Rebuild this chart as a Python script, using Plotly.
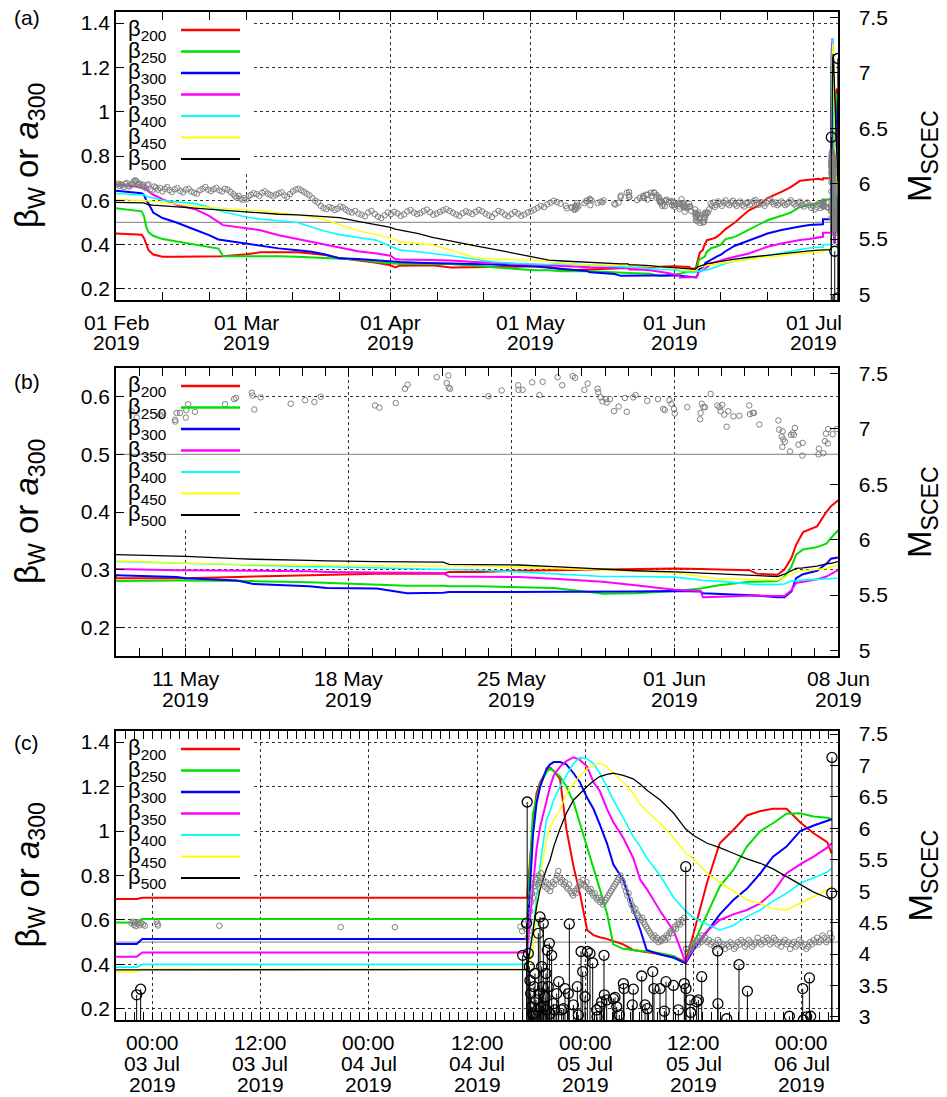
import numpy as np
import pandas as pd
import plotly.graph_objects as go

# ---------------- data ----------------
LABELS = [200, 250, 300, 350, 400, 450, 500]
COLORS = ['#ff0000', '#00e000', '#0000ff', '#ff00ff', '#00ffff', '#ffff00', '#000000']
WIDTHS = [2, 2, 2, 2, 1.6, 1.4, 1.3]

# beta_W, 01 Feb - 08 May (days after 01 Feb 2019)
FEB_T = [0, 5.5, 6, 6.5, 7, 8, 10, 13, 17, 20, 22, 23, 28, 31, 35, 39, 42, 45, 48, 52, 56, 59, 60, 61, 65, 68, 72, 77, 81, 86, 90, 93, 96]
FEB_B200 = [0.450, 0.445, 0.430, 0.400, 0.375, 0.355, 0.345, 0.345, 0.345, 0.345, 0.345, 0.347, 0.357, 0.365, 0.365, 0.365, 0.360, 0.353, 0.340, 0.330, 0.318, 0.307, 0.297, 0.305, 0.307, 0.307, 0.297, 0.297, 0.297, 0.300, 0.302, 0.300, 0.288]
FEB_B250 = [0.564, 0.550, 0.530, 0.480, 0.455, 0.440, 0.425, 0.415, 0.400, 0.390, 0.382, 0.348, 0.348, 0.350, 0.348, 0.345, 0.342, 0.338, 0.335, 0.333, 0.322, 0.315, 0.312, 0.312, 0.312, 0.312, 0.312, 0.305, 0.297, 0.290, 0.284, 0.284, 0.280]
FEB_B300 = [0.643, 0.632, 0.625, 0.600, 0.585, 0.545, 0.520, 0.500, 0.467, 0.443, 0.423, 0.420, 0.402, 0.395, 0.383, 0.375, 0.368, 0.355, 0.338, 0.335, 0.328, 0.323, 0.322, 0.321, 0.318, 0.317, 0.315, 0.312, 0.310, 0.305, 0.302, 0.296, 0.290]
FEB_B350 = [0.672, 0.660, 0.658, 0.650, 0.640, 0.625, 0.605, 0.580, 0.560, 0.530, 0.500, 0.488, 0.474, 0.465, 0.442, 0.425, 0.413, 0.400, 0.385, 0.370, 0.360, 0.350, 0.335, 0.333, 0.332, 0.331, 0.328, 0.322, 0.318, 0.312, 0.307, 0.304, 0.301]
FEB_B400 = [0.631, 0.625, 0.624, 0.620, 0.615, 0.610, 0.600, 0.593, 0.585, 0.570, 0.555, 0.548, 0.525, 0.515, 0.508, 0.500, 0.480, 0.460, 0.445, 0.433, 0.420, 0.393, 0.385, 0.375, 0.368, 0.361, 0.350, 0.334, 0.322, 0.315, 0.312, 0.310, 0.314]
FEB_B450 = [0.604, 0.600, 0.600, 0.599, 0.598, 0.595, 0.590, 0.580, 0.573, 0.568, 0.566, 0.565, 0.557, 0.553, 0.545, 0.534, 0.525, 0.512, 0.490, 0.462, 0.445, 0.430, 0.425, 0.413, 0.405, 0.398, 0.375, 0.342, 0.335, 0.333, 0.330, 0.322, 0.315]
FEB_B500 = [0.591, 0.588, 0.588, 0.584, 0.580, 0.578, 0.575, 0.568, 0.562, 0.557, 0.555, 0.553, 0.545, 0.543, 0.537, 0.534, 0.530, 0.527, 0.522, 0.505, 0.490, 0.478, 0.470, 0.466, 0.450, 0.433, 0.415, 0.395, 0.380, 0.360, 0.342, 0.330, 0.326]

# beta_W, 08 May - 08 Jun (days after 08 May 2019)
MAY_T = [0, 2.6, 3, 5.2, 5.9, 8.3, 9.05, 11.2, 12.5, 14.05, 14.3, 15.6, 17.3, 18.8, 20.6, 20.9, 22.3, 24, 25.1, 25.2, 25.9, 27.2, 27.5, 28.4, 28.7, 29, 29.2, 29.5, 30.1, 30.5, 30.7, 31]
MAY_B200 = [0.285, 0.285, 0.285, 0.287, 0.288, 0.290, 0.291, 0.293, 0.293, 0.293, 0.296, 0.296, 0.298, 0.299, 0.300, 0.300, 0.301, 0.302, 0.301, 0.301, 0.300, 0.299, 0.293, 0.291, 0.300, 0.320, 0.343, 0.365, 0.375, 0.400, 0.410, 0.420]
MAY_B250 = [0.280, 0.281, 0.281, 0.280, 0.280, 0.278, 0.277, 0.275, 0.272, 0.272, 0.271, 0.271, 0.270, 0.268, 0.260, 0.258, 0.259, 0.263, 0.267, 0.268, 0.273, 0.279, 0.279, 0.280, 0.288, 0.305, 0.326, 0.335, 0.339, 0.345, 0.355, 0.368]
MAY_B300 = [0.290, 0.287, 0.285, 0.281, 0.275, 0.271, 0.268, 0.267, 0.259, 0.260, 0.261, 0.261, 0.261, 0.261, 0.261, 0.261, 0.262, 0.263, 0.262, 0.259, 0.258, 0.255, 0.255, 0.252, 0.252, 0.262, 0.285, 0.292, 0.298, 0.310, 0.319, 0.321]
MAY_B350 = [0.301, 0.299, 0.299, 0.298, 0.298, 0.297, 0.296, 0.295, 0.295, 0.294, 0.288, 0.288, 0.287, 0.284, 0.280, 0.279, 0.273, 0.265, 0.263, 0.252, 0.253, 0.255, 0.255, 0.254, 0.254, 0.264, 0.277, 0.279, 0.283, 0.288, 0.293, 0.299]
MAY_B400 = [0.314, 0.311, 0.311, 0.308, 0.307, 0.305, 0.305, 0.303, 0.302, 0.300, 0.300, 0.299, 0.296, 0.293, 0.289, 0.288, 0.288, 0.287, 0.282, 0.281, 0.280, 0.275, 0.274, 0.274, 0.275, 0.280, 0.281, 0.282, 0.283, 0.284, 0.285, 0.285]
MAY_B450 = [0.315, 0.312, 0.311, 0.309, 0.309, 0.308, 0.307, 0.307, 0.306, 0.306, 0.306, 0.306, 0.304, 0.302, 0.300, 0.300, 0.297, 0.294, 0.288, 0.287, 0.284, 0.283, 0.283, 0.282, 0.287, 0.293, 0.296, 0.298, 0.300, 0.302, 0.305, 0.307]
MAY_B500 = [0.326, 0.323, 0.323, 0.319, 0.318, 0.316, 0.315, 0.314, 0.313, 0.313, 0.309, 0.309, 0.308, 0.305, 0.301, 0.300, 0.298, 0.296, 0.294, 0.294, 0.293, 0.290, 0.290, 0.288, 0.292, 0.298, 0.302, 0.303, 0.306, 0.310, 0.311, 0.314]

# beta_W, 09 Jun - 02 Jul (days after 01 Feb 2019)
JUN_T = [128, 129, 130, 131, 133, 136, 138, 140, 143, 145, 147, 149, 151, 151.5]
JUN_B200 = [0.425, 0.433, 0.450, 0.470, 0.500, 0.555, 0.575, 0.610, 0.638, 0.660, 0.688, 0.693, 0.697, 0.694]
JUN_B250 = [0.385, 0.390, 0.400, 0.425, 0.435, 0.466, 0.490, 0.510, 0.530, 0.545, 0.570, 0.580, 0.589, 0.588]
JUN_B300 = [0.335, 0.345, 0.355, 0.370, 0.395, 0.420, 0.435, 0.450, 0.466, 0.475, 0.482, 0.488, 0.490, 0.492]
JUN_B350 = [0.315, 0.322, 0.330, 0.335, 0.345, 0.360, 0.375, 0.390, 0.405, 0.413, 0.421, 0.425, 0.432, 0.435]
JUN_B400 = [0.293, 0.300, 0.310, 0.315, 0.325, 0.338, 0.344, 0.350, 0.360, 0.370, 0.378, 0.385, 0.388, 0.388]
JUN_B450 = [0.310, 0.314, 0.318, 0.320, 0.325, 0.333, 0.340, 0.345, 0.350, 0.357, 0.360, 0.365, 0.367, 0.367]
JUN_B500 = [0.318, 0.322, 0.325, 0.328, 0.335, 0.343, 0.348, 0.353, 0.360, 0.365, 0.368, 0.372, 0.375, 0.375]

# beta_W, 02 Jul 20:00 - 06 Jul (hours after 02 Jul 2019 20:00)
JUL_T = [0, 2.3, 2.9, 45.55, 46.2, 46.6, 47.0, 47.7, 48.1, 48.5, 49.2, 49.9, 50.7, 51.4, 52.2, 52.9, 53.6, 54.4, 55.1, 56.2, 57.3, 58.1, 58.8, 60.3, 61.8, 63.1, 64.0, 65.5, 66.9, 68.4, 69.9, 71.4, 72.8, 74.3, 75.8, 77.3, 78.8, 79.3]
JUL_B200 = [0.694, 0.694, 0.700, 0.700, 1.040, 1.170, 1.220, 1.270, 1.285, 1.270, 1.235, 1.010, 0.840, 0.720, 0.555, 0.532, 0.522, 0.515, 0.505, 0.490, 0.465, 0.460, 0.455, 0.447, 0.437, 0.410, 0.540, 0.770, 0.945, 1.005, 1.070, 1.090, 1.100, 1.100, 1.040, 0.990, 0.950, 0.900]
JUL_B250 = [0.588, 0.588, 0.604, 0.604, 1.080, 1.150, 1.210, 1.265, 1.280, 1.270, 1.245, 1.200, 1.130, 1.035, 0.930, 0.840, 0.740, 0.630, 0.490, 0.470, 0.463, 0.460, 0.458, 0.450, 0.437, 0.405, 0.495, 0.630, 0.750, 0.825, 0.930, 1.000, 1.035, 1.078, 1.080, 1.065, 1.060, 1.053]
JUL_B300 = [0.492, 0.492, 0.514, 0.514, 0.980, 1.125, 1.200, 1.280, 1.300, 1.310, 1.310, 1.300, 1.260, 1.220, 1.150, 1.100, 1.030, 0.945, 0.850, 0.780, 0.645, 0.555, 0.465, 0.445, 0.430, 0.405, 0.465, 0.545, 0.625, 0.690, 0.740, 0.810, 0.885, 0.930, 1.000, 1.025, 1.045, 1.053]
JUL_B350 = [0.435, 0.435, 0.454, 0.454, 0.750, 0.920, 1.020, 1.140, 1.200, 1.250, 1.290, 1.315, 1.332, 1.320, 1.290, 1.220, 1.180, 1.100, 1.040, 0.970, 0.880, 0.780, 0.740, 0.640, 0.550, 0.410, 0.480, 0.550, 0.600, 0.625, 0.645, 0.675, 0.725, 0.810, 0.850, 0.885, 0.925, 0.945]
JUL_B400 = [0.388, 0.388, 0.400, 0.400, 0.550, 0.700, 0.850, 1.050, 1.090, 1.140, 1.200, 1.250, 1.305, 1.330, 1.325, 1.305, 1.260, 1.200, 1.140, 1.060, 0.975, 0.930, 0.880, 0.800, 0.700, 0.640, 0.610, 0.580, 0.555, 0.575, 0.615, 0.645, 0.685, 0.720, 0.765, 0.790, 0.815, 0.832]
JUL_B450 = [0.367, 0.367, 0.378, 0.378, 0.470, 0.650, 0.800, 0.960, 1.020, 1.050, 1.095, 1.170, 1.215, 1.250, 1.280, 1.295, 1.305, 1.290, 1.260, 1.220, 1.170, 1.120, 1.090, 1.035, 0.970, 0.900, 0.875, 0.810, 0.770, 0.730, 0.690, 0.675, 0.650, 0.645, 0.675, 0.705, 0.735, 0.750]
JUL_B500 = [0.375, 0.375, 0.377, 0.377, 0.550, 0.660, 0.740, 0.830, 0.870, 0.930, 1.010, 1.080, 1.140, 1.170, 1.200, 1.225, 1.245, 1.255, 1.260, 1.250, 1.235, 1.210, 1.185, 1.140, 1.080, 1.010, 0.980, 0.945, 0.925, 0.900, 0.875, 0.855, 0.830, 0.795, 0.760, 0.725, 0.700, 0.690]

# a_300 (grey circles): (time, value)
FEB_A300 = [  # days after 01 Feb
    (0.2, .670), (0.5, .675), (0.8, .665), (1.1, .672), (1.4, .668), (1.7, .660), (2.0, .674), (2.3, .678), (2.6, .666),
    (2.9, .662), (3.2, .670), (3.5, .676), (3.8, .684), (4.1, .690), (4.3, .688), (4.5, .680), (4.7, .672), (4.9, .668),
    (5.2, .675), (5.5, .664), (5.8, .670), (6.1, .660), (6.4, .655), (6.7, .668), (7.0, .672), (7.4, .650), (7.8, .645),
    (8.2, .662), (8.6, .658), (9.0, .648), (9.5, .655), (10.0, .640), (10.5, .652), (11.0, .660), (11.5, .646), (12.0, .638),
    (12.6, .650), (13.2, .655), (13.8, .642), (14.4, .636), (15.0, .648), (15.6, .652), (16.2, .640), (16.8, .634),
    (17.4, .630), (18.0, .645), (18.6, .652), (19.2, .660), (19.8, .648), (20.4, .642), (21.0, .650), (21.6, .656),
    (22.2, .645), (22.8, .640), (23.4, .652), (24.0, .648), (24.6, .638), (25.2, .628), (25.6, .618), (26.0, .612),
    (26.4, .620), (26.8, .608), (27.2, .602), (27.6, .610), (28.0, .604), (28.5, .618), (29.0, .625), (29.6, .632),
    (30.2, .628), (30.8, .620), (31.4, .634), (32.0, .640), (32.6, .630), (33.2, .624), (33.8, .618), (34.4, .626),
    (35.0, .632), (35.6, .636), (36.2, .622), (36.8, .616), (37.4, .628), (38.0, .640), (38.6, .648), (39.2, .652),
    (39.8, .645), (40.4, .638), (41.0, .630), (41.6, .622), (42.2, .610), (42.8, .598), (43.4, .590), (44.0, .575),
    (44.6, .566), (45.2, .560), (45.8, .570), (46.4, .565), (47.0, .556), (47.6, .562), (48.2, .572), (48.8, .568),
    (49.4, .558), (50.0, .550), (50.7, .545), (51.4, .552), (52.1, .540), (52.8, .535), (53.5, .528), (54.2, .545),
    (54.9, .552), (55.6, .538), (56.3, .526), (57.0, .520), (57.7, .532), (58.4, .545), (59.1, .538), (59.8, .548),
    (60.5, .541), (61.2, .530), (61.9, .536), (62.6, .550), (63.3, .556), (64.0, .545), (64.7, .538), (65.4, .542),
    (66.1, .552), (66.8, .558), (67.5, .546), (68.2, .535), (68.9, .540), (69.6, .548), (70.3, .555), (71.0, .560),
    (71.7, .552), (72.4, .544), (73.1, .536), (73.8, .530), (74.5, .542), (75.2, .550), (75.9, .545), (76.6, .538),
    (77.3, .548), (78.0, .556), (78.7, .550), (79.4, .540), (80.1, .532), (80.8, .525), (81.5, .540), (82.2, .552),
    (82.9, .546), (83.6, .535), (84.3, .528), (85.0, .538), (85.7, .548), (86.4, .540), (87.1, .530), (87.8, .536),
    (88.5, .545), (89.2, .550), (89.9, .558), (90.6, .566), (91.3, .575), (92.0, .570), (92.7, .582), (93.4, .590),
    (94.1, .598), (94.8, .592), (95.5, .585),
]
MAY_A300 = [  # days after 08 May
    (0.67, .575), (0.89, .564), (1.89, .569), (1.96, .566), (2.53, .560), (2.55, .557), (2.60, .572), (2.75, .572),
    (3.00, .564), (3.02, .577), (3.10, .587), (3.39, .574), (4.68, .587), (5.07, .596), (5.15, .598), (5.83, .607),
    (5.87, .602), (5.94, .578), (6.21, .599), (7.50, .588), (8.12, .594), (8.52, .591), (8.79, .600), (11.12, .585),
    (11.31, .581), (12.01, .589), (12.41, .614), (12.52, .621), (13.77, .634), (14.20, .624), (14.27, .637),
    (14.28, .616), (14.34, .614), (15.99, .601), (16.56, .611), (17.27, .620), (17.28, .612), (17.46, .612),
    (17.87, .625), (18.18, .603), (18.32, .626), (18.96, .634), (19.16, .620), (19.61, .636), (19.71, .633),
    (20.11, .612), (20.25, .623), (20.68, .614), (20.71, .608), (20.81, .599), (20.89, .592), (21.04, .596),
    (21.07, .590), (21.21, .596), (21.38, .575), (21.58, .583), (21.85, .598), (21.93, .574), (22.21, .599),
    (22.31, .603), (22.81, .593), (23.27, .596), (23.50, .579), (23.56, .577), (23.76, .594), (23.84, .588),
    (23.96, .579), (23.99, .571), (24.53, .582), (25.08, .561), (25.10, .572), (25.15, .588), (25.22, .582),
    (25.29, .582), (25.53, .605), (25.82, .585), (25.91, .582), (25.96, .575), (26.03, .586), (26.12, .569),
    (26.22, .548), (26.29, .575), (26.51, .566), (26.76, .567), (27.19, .585), (27.22, .570), (27.34, .572),
    (27.39, .572), (27.62, .552), (28.44, .559), (28.47, .543), (28.58, .531), (28.61, .513), (28.62, .540),
    (28.65, .526), (28.72, .522), (28.94, .505), (28.98, .534), (29.05, .537), (29.11, .534), (29.15, .546),
    (29.30, .517), (29.47, .498), (29.48, .520), (30.16, .500), (30.18, .510), (30.37, .502), (30.44, .523),
    (30.48, .536), (30.56, .519), (30.58, .544), (30.77, .535), (30.94, .544),
]
JUN_A300 = [  # days after 01 Feb
    (127.2, .545), (127.5, .560), (127.8, .585), (128.1, .575), (128.4, .590), (128.7, .570), (129.0, .580),
    (129.4, .595), (129.8, .585), (130.2, .575), (130.6, .590), (131.0, .600), (131.4, .585), (131.8, .578),
    (132.2, .590), (132.6, .598), (133.0, .582), (133.4, .575), (133.8, .588), (134.2, .595), (134.6, .580),
    (135.0, .572), (135.4, .586), (135.8, .592), (136.2, .578), (136.6, .584), (137.0, .596), (137.4, .602),
    (137.8, .588), (138.2, .580), (138.6, .592), (139.0, .585), (139.4, .575), (139.8, .588), (140.2, .598),
    (140.6, .604), (141.0, .592), (141.4, .582), (141.8, .590), (142.2, .578), (142.6, .586), (143.0, .595),
    (143.4, .588), (143.8, .578), (144.2, .585), (144.6, .592), (145.0, .600), (145.4, .590), (145.8, .582),
    (146.2, .575), (146.6, .586), (147.0, .594), (147.4, .580), (147.8, .572), (148.2, .584), (148.6, .590),
    (149.0, .578), (149.4, .566), (149.8, .575), (150.2, .560), (150.6, .570), (151.0, .585), (151.4, .565),
]
JUL_A300 = [  # hours after 02 Jul 20:00
    (1.7, .585), (1.9, .592), (2.0, .578), (2.1, .588), (2.2, .572), (2.4, .583), (2.5, .590), (2.6, .576),
    (2.8, .586), (3.0, .580), (3.2, .574), (4.5, .592), (4.6, .583), (4.65, .575), (11.45, .574), (24.9, .568),
    (30.9, .568), (44.8, .570), (45.0, .550), (45.2, .580), (45.4, .560), (45.6, .520), (45.7, .600), (45.8, .550),
    (45.9, .640), (46.0, .680), (46.1, .720), (46.2, .700), (46.3, .750), (46.4, .770), (46.5, .730), (46.6, .780),
    (46.7, .760), (46.8, .800), (46.9, .770), (47.0, .790), (47.1, .810), (47.2, .760), (47.35, .780), (47.5, .750),
    (47.65, .770), (47.8, .740), (47.95, .760), (48.1, .730), (48.25, .750), (48.4, .770), (48.55, .760),
    (48.7, .780), (48.85, .800), (49.0, .820), (49.15, .790), (49.3, .770), (49.45, .780), (49.6, .760),
    (49.75, .770), (49.9, .750), (50.05, .740), (50.2, .760), (50.35, .730), (50.5, .720), (50.65, .710),
    (50.8, .730), (50.95, .720), (51.1, .740), (51.25, .750), (51.4, .770), (51.55, .760), (51.7, .780),
    (51.85, .760), (52.0, .750), (52.15, .770), (52.3, .740), (52.45, .730), (52.6, .740), (52.75, .720),
    (52.9, .710), (53.05, .720), (53.2, .700), (53.35, .690), (53.5, .700), (53.65, .680), (53.8, .690),
    (53.95, .670), (54.1, .680), (54.25, .690), (54.4, .700), (54.55, .710), (54.7, .720), (54.85, .730),
    (55.0, .740), (55.15, .750), (55.3, .760), (55.45, .770), (55.6, .780), (55.75, .790), (55.9, .800),
    (56.05, .780), (56.2, .770), (56.35, .750), (56.5, .730), (56.65, .710), (56.8, .720), (56.95, .690),
    (57.1, .670), (57.25, .660), (57.4, .640), (57.55, .650), (57.7, .630), (57.85, .620), (58.0, .610),
    (58.15, .600), (58.3, .610), (58.45, .590), (58.6, .580), (58.75, .570), (58.9, .560), (59.05, .550),
    (59.2, .540), (59.35, .530), (59.5, .520), (59.65, .530), (59.8, .510), (59.95, .520), (60.1, .500),
    (60.25, .510), (60.4, .505), (60.55, .515), (60.7, .520), (60.85, .510), (61.0, .530), (61.15, .520),
    (61.3, .540), (61.45, .550), (61.6, .540), (61.75, .560), (61.9, .570), (62.05, .560), (62.2, .580),
    (62.35, .590), (62.5, .580), (62.65, .600), (62.8, .590), (62.95, .610), (63.15, .470), (63.3, .450),
    (63.45, .470), (63.6, .460), (63.75, .480), (63.9, .490), (64.05, .480), (64.2, .500), (64.35, .510),
    (64.5, .490), (64.65, .520), (64.8, .500), (64.95, .530), (65.1, .510), (65.3, .520), (65.5, .500),
    (65.7, .510), (65.9, .490), (66.1, .500), (66.3, .480), (66.5, .490), (66.7, .510), (66.9, .500),
    (67.1, .480), (67.3, .490), (67.5, .470), (67.7, .490), (67.9, .480), (68.1, .500), (68.3, .490),
    (68.5, .470), (68.7, .480), (68.9, .500), (69.1, .490), (69.3, .510), (69.5, .500), (69.7, .480),
    (69.9, .490), (70.1, .510), (70.3, .500), (70.5, .480), (70.7, .490), (70.9, .500), (71.1, .520),
    (71.3, .500), (71.5, .490), (71.7, .510), (71.9, .500), (72.1, .520), (72.3, .510), (72.5, .490),
    (72.7, .500), (72.9, .520), (73.1, .510), (73.3, .490), (73.5, .500), (73.7, .480), (73.9, .500),
    (74.1, .510), (74.3, .490), (74.5, .500), (74.7, .470), (74.9, .490), (75.1, .500), (75.3, .480),
    (75.5, .490), (75.7, .510), (75.9, .500), (76.1, .480), (76.3, .490), (76.5, .470), (76.7, .480),
    (76.9, .500), (77.1, .490), (77.3, .510), (77.5, .500), (77.7, .520), (77.9, .500), (78.1, .510),
    (78.3, .530), (78.5, .520), (78.7, .500), (78.9, .510), (79.1, .540), (79.3, .520),
]

# earthquakes: (hours after 02 Jul 20:00, M_SCEC)
QUAKES = [
    (2.29, 3.35), (2.73, 3.44), (45.06, 3.98), (45.50, 4.49), (45.56, 6.42), (45.69, 4.01), (45.80, 3.80),
    (45.87, 3.58), (45.95, 3.37), (46.06, 3.16), (46.17, 3.05), (46.24, 3.02), (46.32, 3.48), (46.43, 3.69),
    (46.54, 3.27), (46.69, 3.11), (46.80, 4.33), (46.91, 3.37), (46.98, 4.59), (47.06, 3.16), (47.17, 3.80),
    (47.28, 3.48), (47.35, 4.49), (47.40, 3.16), (47.54, 3.32), (47.65, 3.69), (47.72, 3.11), (47.79, 4.06),
    (47.90, 3.48), (48.02, 4.17), (48.09, 3.05), (48.27, 3.98), (48.46, 3.21), (48.64, 3.11), (48.83, 3.37),
    (49.05, 3.56), (49.38, 3.11), (49.57, 3.13), (49.75, 3.45), (50.12, 3.37), (50.23, 4.48), (50.68, 3.19),
    (51.12, 3.48), (51.23, 3.03), (51.53, 4.04), (51.71, 3.72), (51.97, 3.32), (52.23, 4.04), (52.52, 4.01),
    (52.82, 3.86), (53.26, 3.11), (53.30, 3.00), (53.63, 3.16), (53.82, 3.24), (54.07, 3.98), (54.11, 3.35),
    (54.37, 3.27), (55.11, 3.29), (55.29, 3.31), (55.48, 3.16), (55.77, 3.03), (56.22, 3.53), (56.29, 3.45),
    (57.21, 3.19), (57.32, 3.44), (58.25, 3.65), (58.62, 3.19), (58.87, 3.13), (59.47, 3.72), (59.61, 3.45),
    (60.28, 3.45), (60.76, 3.09), (60.94, 3.56), (61.76, 3.50), (62.31, 3.11), (62.97, 3.53), (63.13, 5.39),
    (63.16, 3.45), (63.60, 3.27), (63.68, 3.07), (64.34, 3.24), (64.53, 3.27), (64.90, 3.64), (66.67, 4.05),
    (66.70, 3.21), (67.67, 2.97), (69.03, 3.83), (69.96, 3.41), (74.61, 3.01), (76.09, 3.45), (76.16, 2.95),
    (76.53, 3.00), (76.83, 3.62), (76.97, 3.01), (79.30, 4.97), (79.33, 7.13),
]

REF_LEVEL = 0.5
TICKS_A = ['2019-02-01', '2019-03-01', '2019-04-01', '2019-05-01', '2019-06-01', '2019-07-01']
MINOR_A = ['2019-02-11', '2019-02-21', '2019-03-11', '2019-03-21', '2019-04-11', '2019-04-21',
           '2019-05-11', '2019-05-21', '2019-06-11', '2019-06-21']
TICKS_B = ['2019-05-11', '2019-05-18', '2019-05-25', '2019-06-01', '2019-06-08']
TICKS_C = ['2019-07-03 00:00', '2019-07-03 12:00', '2019-07-04 00:00', '2019-07-04 12:00',
           '2019-07-05 00:00', '2019-07-05 12:00', '2019-07-06 00:00']

# ---------------- build ----------------
T_FEB = pd.Timestamp('2019-02-01')
T_MAY = pd.Timestamp('2019-05-08')
T_JUL = pd.Timestamp('2019-07-02 20:00')


def at(base, offs, unit):
    idx = base + pd.to_timedelta(np.asarray(offs, dtype=float), unit=unit)
    return list(idx.round('s'))


beta_t = at(T_FEB, FEB_T, 'D') + at(T_MAY, MAY_T, 'D') + at(T_FEB, JUN_T, 'D') + at(T_JUL, JUL_T, 'h')
beta_v = [
    FEB_B200 + MAY_B200 + JUN_B200 + JUL_B200,
    FEB_B250 + MAY_B250 + JUN_B250 + JUL_B250,
    FEB_B300 + MAY_B300 + JUN_B300 + JUL_B300,
    FEB_B350 + MAY_B350 + JUN_B350 + JUL_B350,
    FEB_B400 + MAY_B400 + JUN_B400 + JUL_B400,
    FEB_B450 + MAY_B450 + JUN_B450 + JUL_B450,
    FEB_B500 + MAY_B500 + JUN_B500 + JUL_B500,
]

a_t = (at(T_FEB, [p[0] for p in FEB_A300], 'D') + at(T_MAY, [p[0] for p in MAY_A300], 'D')
       + at(T_FEB, [p[0] for p in JUN_A300], 'D') + at(T_JUL, [p[0] for p in JUL_A300], 'h'))
a_v = [p[1] for p in FEB_A300 + MAY_A300 + JUN_A300 + JUL_A300]

eq_t = at(T_JUL, [q[0] for q in QUAKES], 'h')
eq_m = [q[1] for q in QUAKES]
stem_x, stem_y = [], []
for t, m in zip(eq_t, eq_m):
    stem_x += [t, t, None]
    stem_y += [0, m, None]

# the page body has an 8 px margin; figure is sized so the plot areas land where the reference has them
W, H = 939, 1089
ML, MR, MT, MB = 108, 109, 4, 77
PW, PH = W - ML - MR, H - MT - MB
OFF = 8


def px_x(px):  # page pixel -> paper fraction
    return (px - OFF - ML) / PW


def px_y(py):
    return 1 - (py - OFF - MT) / PH


FONT = 'Liberation Sans, Arial, sans-serif'
GRID = 'rgba(0,0,0,0.8)'

panels = [
    dict(x='x', y='y', y2='y2', top=12, bottom=300, label='(a)', label_y=18,
         xrange=['2019-02-01', '2019-07-06 04:00'], yrange=[0.15, 1.45], ydt=0.2, y2range=[4.95, 7.55],
         ticks=TICKS_A, fmt=['%d %b', '%Y'], minor=dict(tickmode='array', tickvals=MINOR_A)),
    dict(x='x2', y='y3', y2='y4', top=368, bottom=656, label='(b)', label_y=381,
         xrange=['2019-05-08', '2019-06-08'], yrange=[0.15, 0.65], ydt=0.1, y2range=[4.95, 7.55],
         ticks=TICKS_B, fmt=['%d %b', '%Y'], minor=dict(dtick=86400000, tick0='2019-05-08')),
    dict(x='x3', y='y5', y2='y6', top=731, bottom=1020, label='(c)', label_y=742,
         xrange=['2019-07-02 20:00', '2019-07-06 04:00'], yrange=[0.15, 1.45], ydt=0.2, y2range=[2.95, 7.55],
         ticks=TICKS_C, fmt=['%H:%M', '%d %b', '%Y'], minor=dict(dtick=3600000, tick0='2019-07-03')),
]

fig = go.Figure()
layout = dict(width=W, height=H, margin=dict(l=ML, r=MR, t=MT, b=MB, autoexpand=False), paper_bgcolor='white',
              plot_bgcolor='white', showlegend=False, font=dict(family=FONT, size=21, color='black'))
shapes, annotations = [], []

for p in panels:
    xa, ya, y2a = p['x'], p['y'], p['y2']
    ph = p['bottom'] - p['top']
    x0, x1 = pd.Timestamp(p['xrange'][0]), pd.Timestamp(p['xrange'][1])
    y0, y1 = p['yrange']

    # opaque key box (hides the grid behind the key), then the 0.5 reference level
    kx = x0 + (x1 - x0) * px_x(253)
    ky = y1 - (y1 - y0) * 159 / ph
    fig.add_trace(go.Scatter(x=[x0, kx, kx, x0, x0], y=[y1, y1, ky, ky, y1], mode='none', fill='toself',
                             fillcolor='white', xaxis=xa, yaxis=ya, hoverinfo='skip'))
    fig.add_trace(go.Scatter(x=[x0, x1], y=[REF_LEVEL, REF_LEVEL], mode='lines',
                             line=dict(color='#999999', width=1.2), xaxis=xa, yaxis=ya, hoverinfo='skip'))

    for vals, col, w in zip(beta_v, COLORS, WIDTHS):
        fig.add_trace(go.Scatter(x=beta_t, y=vals, mode='lines', line=dict(color=col, width=w),
                                 xaxis=xa, yaxis=ya, hoverinfo='skip'))
    fig.add_trace(go.Scatter(x=a_t, y=a_v, mode='markers', xaxis=xa, yaxis=ya, hoverinfo='skip',
                             marker=dict(symbol='circle-open', size=5.5, color='#808080',
                                         line=dict(width=1, color='#808080'))))
    fig.add_trace(go.Scatter(x=stem_x, y=stem_y, mode='lines', line=dict(color='black', width=1),
                             xaxis=xa, yaxis=y2a, hoverinfo='skip'))
    fig.add_trace(go.Scatter(x=eq_t, y=eq_m, mode='markers', xaxis=xa, yaxis=y2a, hoverinfo='skip',
                             marker=dict(symbol='circle-open', size=10, color='black',
                                         line=dict(width=1.3, color='black'))))

    dom = [px_y(p['bottom']), px_y(p['top'])]
    minor = dict(ticks='inside', ticklen=4, tickcolor='black', showgrid=False)
    minor.update(p['minor'])
    layout['xaxis' + xa[1:]] = dict(
        type='date', range=p['xrange'], domain=[0, 1], anchor=ya, tickmode='array', tickvals=p['ticks'],
        showticklabels=False, minor=minor, ticks='inside', ticklen=8, tickcolor='black', showline=True,
        linecolor='black', linewidth=1.5, mirror='allticks', showgrid=True, gridcolor=GRID, griddash='dot',
        gridwidth=1, zeroline=False)
    layout['yaxis' + ya[1:]] = dict(
        domain=dom, anchor=xa, range=p['yrange'], tick0=0, dtick=p['ydt'], ticks='inside', ticklen=8,
        tickcolor='black', showline=True, linecolor='black', linewidth=1.5, showgrid=True, gridcolor=GRID,
        griddash='dot', gridwidth=1, zeroline=False, tickfont=dict(size=21), ticklabeloverflow='allow')
    layout['yaxis' + y2a[1:]] = dict(
        overlaying=ya, side='right', anchor=xa, range=p['y2range'], tick0=0, dtick=0.5, ticks='inside',
        ticklen=8, tickcolor='black', showline=True, linecolor='black', linewidth=1.5, showgrid=False,
        zeroline=False, tickfont=dict(size=21), tickprefix='\u2002\u2009', ticklabeloverflow='allow')

    # x tick labels, one text per line so the line spacing matches
    for tv in p['ticks']:
        ts = pd.Timestamp(tv)
        for k, f in enumerate(p['fmt']):
            annotations.append(dict(xref=xa, yref='paper', x=tv, y=px_y(p['bottom'] + 22 + 21 * k),
                                    text=ts.strftime(f), showarrow=False, xanchor='center', yanchor='middle',
                                    font=dict(size=21)))

    # key: label on the left, line sample on the right
    for i, (lab, col, w) in enumerate(zip(LABELS, COLORS, WIDTHS)):
        yy = 1 - (18 + 21.5 * i) / ph
        shapes.append(dict(type='line', xref=xa + ' domain', yref=ya + ' domain', x0=px_x(181), x1=px_x(240),
                           y0=yy, y1=yy, line=dict(color=col, width=max(w, 1.5) + 0.3), layer='above'))
        annotations.append(dict(xref=xa + ' domain', yref=ya + ' domain', x=px_x(168),
                                y=1 - (18 + 21.5 * i) / ph, text='\u03b2<sub>%d</sub>' % lab,
                                xanchor='right', yanchor='middle', showarrow=False, font=dict(size=22)))
    mid = (p['top'] + p['bottom']) / 2
    annotations.append(dict(xref='paper', yref='paper', x=px_x(29), y=px_y(mid), textangle=-90,
                            text='\u03b2<sub>W</sub> or <i>a</i><sub>300</sub>', showarrow=False,
                            xanchor='center', yanchor='middle', font=dict(size=33)))
    annotations.append(dict(xref='paper', yref='paper', x=px_x(922), y=px_y(mid), textangle=-90,
                            text='M<sub>SCEC</sub>', showarrow=False, xanchor='center', yanchor='middle',
                            font=dict(size=33)))
    annotations.append(dict(xref='paper', yref='paper', x=px_x(12), y=px_y(p['label_y']), text=p['label'],
                            showarrow=False, xanchor='left', yanchor='middle', font=dict(size=21)))

layout['shapes'] = shapes
layout['annotations'] = annotations
fig.update_layout(**layout)

fig.write_html('out.html')
